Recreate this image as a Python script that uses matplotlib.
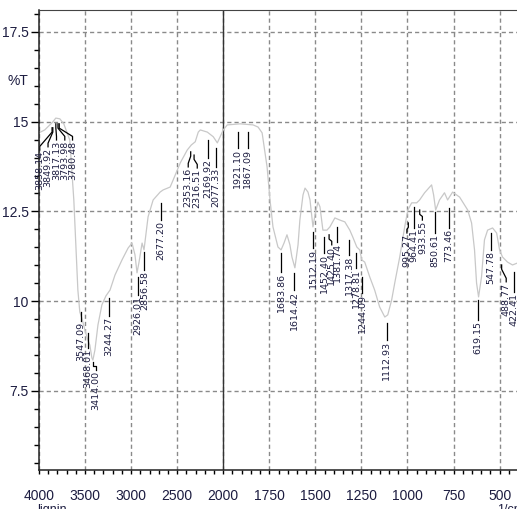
import numpy as np
import matplotlib
matplotlib.use("Agg")
import matplotlib.pyplot as plt
from matplotlib.ticker import FixedLocator, MultipleLocator

# spectrum (1/cm, %T)
wavenumber = [4000, 3938, 3883, 3851, 3818, 3774, 3731, 3666, 3622, 3578,
              3557, 3535, 3502, 3470, 3448, 3426, 3415, 3393, 3360, 3317,
              3273, 3229, 3175, 3099, 3033, 2990, 2958, 2936, 2914, 2881,
              2860, 2816, 2761, 2685, 2652, 2576, 2543, 2467, 2391, 2347,
              2304, 2271, 2249, 2173, 2108, 2064, 2000, 1978, 1908, 1838,
              1811, 1789, 1762, 1746, 1730, 1703, 1686, 1670, 1654, 1638,
              1627, 1611, 1594, 1584, 1567, 1556, 1540, 1529, 1513, 1502,
              1486, 1475, 1459, 1437, 1421, 1394, 1367, 1340, 1313, 1297,
              1275, 1259, 1248, 1232, 1205, 1178, 1151, 1123, 1107, 1086,
              1069, 1042, 1015, 998, 977, 950, 934, 907, 869, 858,
              847, 826, 799, 782, 755, 717, 673, 652, 636, 625,
              614, 598, 582, 565, 538, 516, 500, 484, 457, 430, 400]
transmittance = [14.69, 14.77, 14.91, 14.99, 15.10, 15.08, 14.94, 14.49, 12.82, 10.31,
                 9.70, 9.53, 9.20, 8.92, 8.78, 8.42, 8.36, 8.64, 9.34, 9.90,
                 10.15, 10.31, 10.73, 11.15, 11.48, 11.62, 11.29, 10.79, 11.09, 11.62,
                 11.43, 12.35, 12.82, 13.04, 13.10, 13.18, 13.38, 13.85, 14.21, 14.35,
                 14.44, 14.71, 14.77, 14.71, 14.58, 14.41, 14.77, 14.91, 14.94, 14.91,
                 14.85, 14.69, 13.74, 12.82, 12.07, 11.51, 11.43, 11.62, 11.85, 11.57,
                 11.23, 10.93, 11.57, 12.26, 12.96, 13.15, 13.04, 12.82, 12.07, 12.40,
                 12.76, 12.63, 11.98, 11.98, 12.07, 12.32, 12.26, 12.21, 11.98, 11.79,
                 11.51, 11.43, 11.15, 11.09, 10.68, 10.31, 9.84, 9.56, 9.62, 10.03,
                 10.51, 11.23, 12.07, 12.54, 12.74, 12.74, 12.82, 13.02, 13.24, 12.96,
                 12.54, 12.82, 13.02, 12.82, 13.04, 12.90, 12.54, 12.18, 11.43, 10.51,
                 10.12, 10.68, 11.71, 11.98, 12.04, 11.90, 11.43, 11.23, 11.09, 11.01, 11.07]

# peak picks
peaks = [3858.14, 3849.92, 3817.13, 3793.98, 3780.48, 3547.09, 3468.01, 3414.00,
         3244.27, 2926.01, 2856.58, 2677.20, 2353.16, 2316.51, 2169.92, 2077.33,
         1921.10, 1867.09, 1683.86, 1614.42, 1512.19, 1452.40, 1425.40, 1381.74,
         1317.38, 1278.81, 1244.09, 1112.93, 995.27, 964.41, 933.55, 850.61,
         773.46, 619.15, 547.78, 488.77, 422.41]

# label layout: text x (1/cm), leader top (%T), text top (%T)
label_x = [3992, 3902, 3810, 3720, 3636, 3547.09, 3468.01, 3379,
           3244.27, 2926.01, 2856.58, 2677.20, 2380, 2282, 2169.92, 2077.33,
           1921.10, 1867.09, 1683.86, 1614.42, 1512.19, 1452.40, 1411, 1381.74,
           1317.38, 1278.81, 1244.09, 1112.93, 1003, 964.41, 919, 850.61,
           773.46, 619.15, 547.78, 464, 422.41]
lead_top = [14.83, 14.83, 14.94, 14.94, 14.94, 9.70, 9.12, 8.31,
            10.09, 10.68, 11.37, 12.74, 14.16, 14.07, 14.49, 14.27,
            14.71, 14.71, 11.34, 10.79, 11.93, 11.79, 11.85, 12.07,
            11.71, 11.34, 10.68, 9.39, 12.18, 12.63, 12.54, 12.49,
            12.60, 10.03, 11.90, 11.01, 10.81]
text_top = [14.21, 14.30, 14.49, 14.49, 14.49, 9.45, 8.70, 8.09,
            9.59, 10.17, 10.87, 12.26, 13.74, 13.71, 13.99, 13.74,
            14.27, 14.27, 10.81, 10.31, 11.48, 11.34, 11.57, 11.65,
            11.29, 10.93, 10.23, 8.92, 11.90, 12.04, 12.26, 11.90,
            12.04, 9.48, 11.43, 10.54, 10.26]

txt_col = "#1c1c40"
narrow = ["Liberation Sans Narrow", "Liberation Sans", "DejaVu Sans"]


# x axis is drawn at double scale below 2000 1/cm
def fwd(x):
    x = np.asarray(x, dtype=float)
    return np.where(x >= 2000, x, 2 * x - 2000)


def inv(u):
    u = np.asarray(u, dtype=float)
    return np.where(u >= 2000, u, (u + 2000) / 2)


fig = plt.figure(figsize=(5.17, 5.09), dpi=100)
ax = fig.add_axes([39 / 517, 39 / 509, 479 / 517, 460 / 509])
ax.set_xscale("function", functions=(fwd, inv))
ax.set_xlim(4000, 400)
ax.set_ylim(5.30, 18.11)

ax.xaxis.set_major_locator(FixedLocator([4000, 3500, 3000, 2500, 2000, 1750, 1500, 1250, 1000, 750, 500]))
ax.xaxis.set_minor_locator(FixedLocator(list(np.arange(2100, 4000, 100)) + list(np.arange(450, 2000, 50))))
ax.yaxis.set_major_locator(FixedLocator([7.5, 10, 12.5, 15, 17.5]))
ax.yaxis.set_minor_locator(MultipleLocator(0.5))
ax.set_yticklabels(["7.5", "10", "12.5", "15", "17.5"])

ax.grid(True, which="major", color="#8a8a8a", linestyle=(0, (3, 2.2)), linewidth=1)
ax.axvline(2000, color="#333333", linewidth=1)

ax.tick_params(axis="x", which="both", direction="out", length=3, width=1, pad=11,
               labelsize=10, labelcolor=txt_col)
ax.tick_params(axis="y", which="major", direction="out", length=5.5, width=1, pad=2,
               labelsize=10, labelcolor=txt_col)
ax.tick_params(axis="y", which="minor", direction="out", length=3.5, width=1)
for lab in ax.get_xticklabels() + ax.get_yticklabels():
    lab.set_family(narrow)

for s in ["left", "bottom"]:
    ax.spines[s].set_color("#222222")
    ax.spines[s].set_linewidth(1.1)
ax.spines["top"].set_color("#444444")
ax.spines["right"].set_visible(False)

ax.plot(wavenumber, transmittance, color="#c8c8c8", linewidth=0.9)

for p, tx, yt, yb in zip(peaks, label_x, lead_top, text_top):
    if abs(tx - p) < 1:
        ax.plot([p, p], [yt, yb], color="black", linewidth=0.9)
    else:
        ax.plot([p, p, tx, tx], [yt, yt - 0.12, yb + 0.1, yb], color="black", linewidth=0.9)
    ax.text(tx, yb - 0.03, f"{p:.2f}", rotation=90, ha="center", va="top",
            fontsize=6.8, color=txt_col)

fig.text(28 / 517, 1 - 81 / 509, "%T", ha="right", va="center", fontsize=10,
         color=txt_col, family=narrow)
fig.text(37 / 517, 1 - 504 / 509, "lignin", ha="left", va="top", fontsize=9,
         color=txt_col, family=narrow)
fig.text(497 / 517, 1 - 504 / 509, "1/cm", ha="left", va="top", fontsize=9,
         color=txt_col, family=narrow)

fig.savefig("out.png", dpi=100)
